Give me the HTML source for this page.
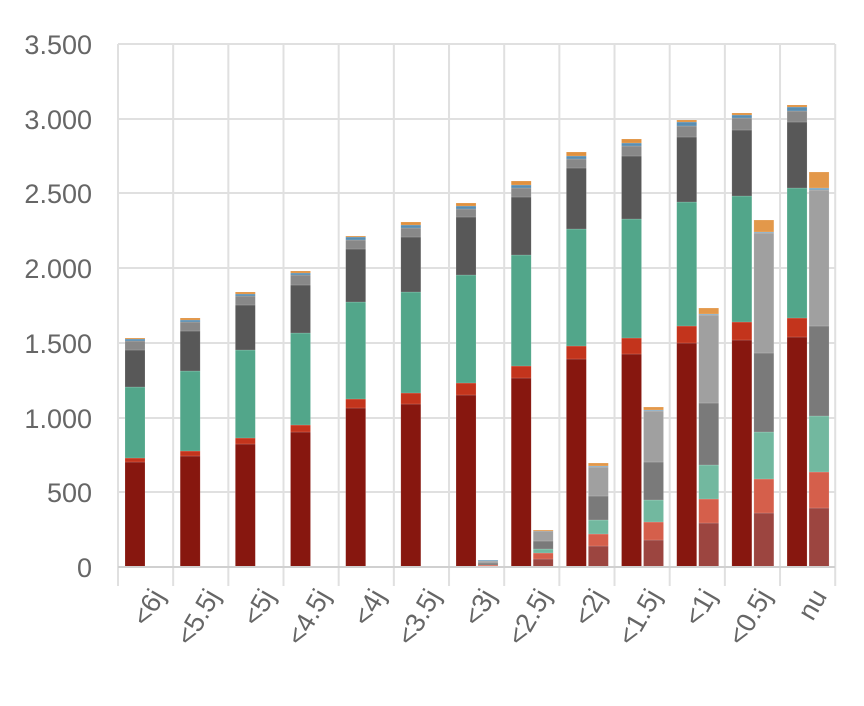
<!DOCTYPE html>
<html><head><meta charset="utf-8"><style>
body{margin:0;background:#fff;}
svg text{font-family:"Liberation Sans",sans-serif;fill:#666;font-size:27px;}
</style></head><body>
<svg id="s" width="864" height="701" viewBox="0 0 864 701" xmlns="http://www.w3.org/2000/svg">
<g stroke="#e0e0e0" stroke-width="2">
<line x1="118" x2="835" y1="44" y2="44"/><line x1="118" x2="835" y1="119" y2="119"/>
<line x1="118" x2="835" y1="193" y2="193"/><line x1="118" x2="835" y1="268" y2="268"/>
<line x1="118" x2="835" y1="343" y2="343"/><line x1="118" x2="835" y1="418" y2="418"/>
<line x1="118" x2="835" y1="492" y2="492"/>
</g>
<g id="v" stroke="#e0e0e0" stroke-width="2"></g>
<g id="b"></g>
<line x1="118" x2="835" y1="567" y2="567" stroke="#d0d0d0" stroke-width="2"/>
<g text-anchor="end">
<text x="92" y="54">3.500</text><text x="92" y="129">3.000</text><text x="92" y="203">2.500</text>
<text x="92" y="278">2.000</text><text x="92" y="353">1.500</text><text x="92" y="428">1.000</text>
<text x="92" y="502">500</text><text x="92" y="577">0</text>
</g>
<g id="xl" text-anchor="end"></g>
</svg>
<script>
var ns="http://www.w3.org/2000/svg";
function el(p,t,a,txt){var e=document.createElementNS(ns,t);for(var k in a)e.setAttribute(k,a[k]);if(txt)e.textContent=txt;document.getElementById(p).appendChild(e);}
var W=55.17;
for(var i=0;i<14;i++){var x=118+i*W;el("v","line",{x1:x,x2:x,y1:44,y2:586});}
var dc=["#87170f","#c3341c","#52a68a","#585858","#888888","#5a8db0","#e0913f"];
var fc=["#9c4540","#d55f4b","#72b89f","#7a7a7a","#a0a0a0","#7aa4c0","#e3984a"];
var D=[[462,458,387,350,341,339,338],[456,451,371,331,322,320,318],[444,438,350,305,296,294,292],[432,425,333,285,275,273,271],[408,399,302,249,240,237,236],[404,393,292,237,228,225,222],[395,383,275,217,209,206,203],[378,366,255,197,188,185,181],[359,346,229,168,159,156,152],[354,338,219,156,146,143,139],[343,326,202,137,126,122,120],[340,322,196,130,118,115,113],[337,318,188,122,111,107,105]];
var F=[[567,567,567,567,567,567,567],[567,567,567,567,566,566,566],[567,567,567,567,566,566,566],[567,567,567,567,566,566,566],[567,567,567,567,566,566,566],[567,567,567,567,566,566,566],[566,565,565,563,561,560,560],[559,553,549,541,531,531,530],[546,534,520,496,467,466,463],[540,522,500,462,411,410,407],[523,499,465,403,315,314,308],[513,479,432,353,233,232,220],[508,472,416,326,190,188,172]];
var labs=["<6j","<5.5j","<5j","<4.5j","<4j","<3.5j","<3j","<2.5j","<2j","<1.5j","<1j","<0.5j","nu"];
for(var i=0;i<13;i++){
 var x0=118+i*W;
 var prev=567;
 for(var j=0;j<7;j++){var t=D[i][j];if(prev-t>0)el("b","rect",{x:x0+7,y:t,width:20,height:prev-t,fill:dc[j],stroke:"rgba(255,255,255,0.3)","stroke-width":0.5});prev=t;}
 prev=567;
 for(var j=0;j<7;j++){var t=F[i][j];if(prev-t>0)el("b","rect",{x:x0+29,y:t,width:20,height:prev-t,fill:fc[j],stroke:"rgba(255,255,255,0.3)","stroke-width":0.5});prev=t;}
 var lx=x0+W/2+20,ly=596;
 el("xl","text",{x:lx,y:ly,transform:"rotate(-60 "+lx+" "+ly+")"},labs[i]);
}
</script>
</body></html>
